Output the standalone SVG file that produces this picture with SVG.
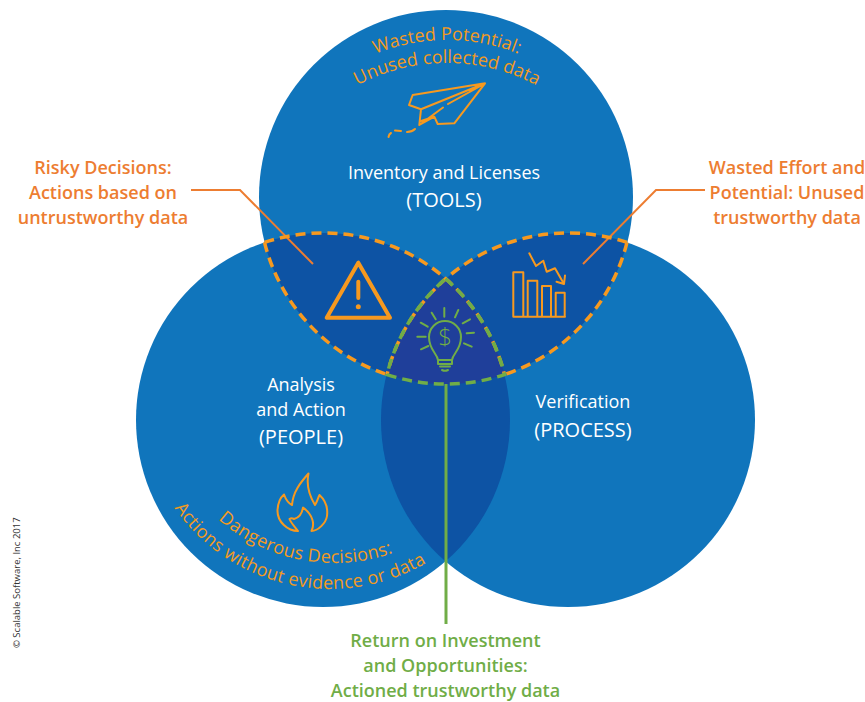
<svg xmlns="http://www.w3.org/2000/svg" width="865" height="702" viewBox="0 0 865 702">
<style>
text{font-family:"Open Sans","Noto Sans","Liberation Sans",sans-serif}
.w{fill:#fff;font-size:18px;text-anchor:middle}
.W{fill:#fff;font-size:20px;text-anchor:middle}
.o{fill:#ED7D31;font-size:18px;font-weight:600;text-anchor:middle}
.g{fill:#70AD47;font-size:18px;font-weight:600;text-anchor:middle}
.c{fill:#F39A21;font-size:18px;text-anchor:middle}
.s{fill:#F39A21;font-size:18px;letter-spacing:.28px}
.ic{fill:none;stroke:#F7991F;stroke-width:2;stroke-linejoin:round;stroke-linecap:round}
.ig{fill:none;stroke:#70AD47;stroke-width:2;stroke-linejoin:round;stroke-linecap:round}
.do{fill:none;stroke:#F7991F;stroke-width:3.500;stroke-dasharray:10 6}
.dg{fill:none;stroke:#70AD47;stroke-width:3.500;stroke-dasharray:10 6}
.ln{fill:none;stroke:#ED7D31;stroke-width:2}
</style>
<defs>
<path id="t1" d="M257 230A190 190 0 0 1 637 230"/>
<path id="t2" d="M257 253A190 190 0 0 1 637 253"/>
<path id="b1" d="M158 387A176 176 0 0 0 510 387"/>
<path id="b2" d="M140 399A190 190 0 0 0 520 399"/>
</defs>
<rect width="865" height="702" fill="#fff"/>
<g id="circles">
<circle id="circle-tools" cx="446" cy="197" r="187" fill="#1075BC"/>
<circle id="circle-people" cx="323" cy="420" r="187" fill="#1075BC"/>
<circle id="circle-process" cx="568" cy="420" r="187" fill="#1075BC"/>
<path d="M264.500 242.300A187 187 0 0 1 504.500 374.600A187 187 0 0 1 264.500 242.300Z" fill="#0D53A4"/>
<path d="M627 242.300A187 187 0 0 0 387 374.600A187 187 0 0 0 627 242.300Z" fill="#0D53A4"/>
<path d="M445.500 278.700A187 187 0 0 1 445.500 561.300A187 187 0 0 1 445.500 278.700Z" fill="#0D53A4"/>
<path d="M445.500 278.700A187 187 0 0 1 504.500 374.600A187 187 0 0 1 387 374.600A187 187 0 0 1 445.500 278.700Z" fill="#1F3F9A"/>
</g>
<g id="connectors">
<path class="ln" d="M191 190H240L313 264"/>
<path class="ln" d="M705 190H656L583 264"/>
<path d="M446 384V624" fill="none" stroke="#70AD47" stroke-width="3"/>
</g>
<g id="dashes">
<path class="do" d="M264.500 242.300A187 187 0 0 1 504.500 374.600"/>
<path class="do" d="M264.500 242.300A187 187 0 0 0 387 374.600"/>
<path class="do" d="M627 242.300A187 187 0 0 0 387 374.600"/>
<path class="do" d="M627 242.300A187 187 0 0 1 504.500 374.600"/>
<path class="dg" d="M445.500 278.700A187 187 0 0 1 504.500 374.600A187 187 0 0 1 387 374.600A187 187 0 0 1 445.500 278.700Z"/>
</g>
<g id="node-tools">
<text class="c"><textPath href="#t1" startOffset="50%">Wasted Potential:</textPath></text>
<text class="c"><textPath href="#t2" startOffset="50%">Unused collected data</textPath></text>
<path class="ic" d="M485 83.300L412.700 95L409 105L421 109.300L419.300 125L434.300 116.700L437.700 124L454.300 123.300ZM421 109.300L485 83.300M419.300 125L443 107.500M448 104L485 83.300M421 121L434.300 116.700"/>
<path class="ic" d="M388.500 137Q389 134 391 133M395 130.500L401 131M407 132Q412 132 415 129" />
<text class="w" x="444" y="179">Inventory and Licenses</text>
<text class="W" x="444" y="207">(TOOLS)</text>
</g>
<g id="node-people">
<text class="w" x="301" y="391">Analysis</text>
<text class="w" x="301" y="416">and Action</text>
<text class="W" x="301" y="444">(PEOPLE)</text>
<path class="ic" stroke-width="2.500" d="M298 531C288 531 277 522 277.500 510C278 502 281 497 284 494.500C286 500 288 503 292 505C293 492 300 483 308.500 473.500C306 485 309 495 315 505C317 502 318 498 319.500 495C325 500 328 508 327 516C326 523 318 531 311.500 531C315 524 313 515 303 507.500C302 514 298 518 294 519C292 518 291 518 289.500 519C291 523 295 527 298 531Z"/>
<text class="s"><textPath href="#b1" startOffset="150">Dangerous Decisions:</textPath></text>
<text class="s"><textPath href="#b2" startOffset="116">Actions without evidence or data</textPath></text>
</g>
<g id="node-process">
<text class="w" x="583" y="408">Verification</text>
<text class="W" x="583" y="437">(PROCESS)</text>
</g>
<g id="node-risky">
<path d="M358.300 262.700L326.700 317.700H390Z" fill="none" stroke="#F7991F" stroke-width="4" stroke-linejoin="round"/>
<path d="M358.300 281.700V298" fill="none" stroke="#F7991F" stroke-width="4" stroke-linecap="round"/>
<circle cx="358.300" cy="306.700" r="2.500" fill="#F7991F"/>
<text class="o" x="103" y="174">Risky Decisions:</text>
<text class="o" x="103" y="199">Actions based on</text>
<text class="o" x="103" y="224">untrustworthy data</text>
</g>
<g id="node-wasted">
<path class="ic" d="M513.300 316.700V272.300H523.300V316.700M527.700 316.700V280.700H537.300V316.700M542 316.700V286H551V316.700M555.700 316.700V292.700H564.700V316.700M513.300 316.700H565"/>
<path class="ic" d="M529.300 253.300L536 266L543.300 260.700L546.700 271.700L555 268.300L564 284M556.500 281.700L564 284L565 275.500"/>
<text class="o" x="787" y="174">Wasted Effort and</text>
<text class="o" x="787" y="199">Potential: Unused</text>
<text class="o" x="787" y="224">trustworthy data</text>
</g>
<g id="node-roi">
<path class="ig" d="M438 360C437 353 429 350 429 337A16 16 0 1 1 461 337C461 350 453 353 452 360ZM438 360V364H452V360M440 366.500H450M442 370Q445 371.500 448 370"/>
<text x="445" y="345" text-anchor="middle" fill="#70AD47" style="font-size:24px;font-weight:300">$</text>
<path class="ig" d="M444.300 308V316.700M431.700 312.700L435.700 319.300M420.700 322.700L427.700 326.700M417.300 336.700H425.700M421 349.300L428.300 346M458.300 310L455 317.300M470 319.300L462.700 323.300M474 332.700L466.700 333.300M471.700 346.700L464 343.300"/>
<text class="g" x="445.500" y="647">Return on Investment</text>
<text class="g" x="445.500" y="672">and Opportunities:</text>
<text class="g" x="445.500" y="697">Actioned trustworthy data</text>
</g>
<text transform="translate(20 648) rotate(-90)" fill="#333" style="font-size:9.500px">© Scalable Software, Inc 2017</text>
</svg>
